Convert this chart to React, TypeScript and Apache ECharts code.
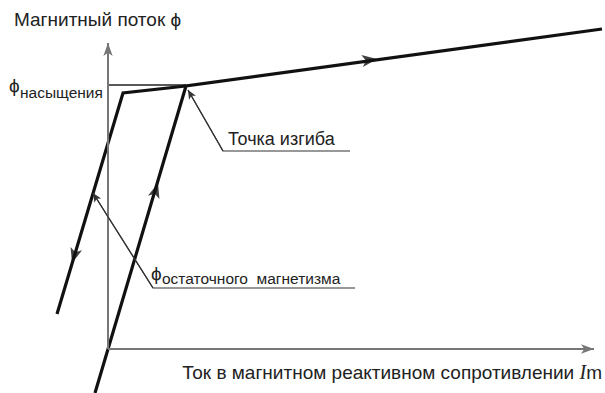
import React, { useEffect, useRef } from "react";
import * as echarts from "echarts";

// Data (arbitrary units: 1 unit = 10 px on both axes)
const risingBranch: [number, number][] = [
  [-1.3, -4.4],
  [7.8, 26.3],
  [49.4, 32.0],
];
const returnBranch: [number, number][] = [
  [7.8, 26.3],
  [1.5, 25.6],
  [-5.1, 3.5],
];
const saturationLine: [number, number][] = [
  [0, 26.4],
  [7.8, 26.4],
];
// [x, y, rotation]
const directionArrows: [number, number, number][] = [
  [5.0, 16.6, -16.7],
  [-3.6, 8.6, 163.3],
  [26.9, 29.0, -82.2],
];
const kneeLeader: [number, number][] = [
  [8.0, 25.9],
  [11.5, 19.8],
  [24.2, 19.8],
];
const remanenceLeader: [number, number][] = [
  [-1.5, 15.6],
  [4.5, 6.1],
  [24.7, 6.1],
];
const xAxisEnd: [number, number] = [48.6, 0];
const yAxisEnd: [number, number] = [0, 30.6];
const origin: [number, number] = [0, 0];

const yAxisTitle = "Магнитный поток ϕ";
const xAxisTitle = "Ток в магнитном реактивном сопротивлении ";
const saturationLabel = "насыщения";
const kneeLabel = "Точка изгиба";
const remanenceLabel = "остаточного  магнетизма";
const phi = "ϕ";

const FONT = "'Liberation Sans', Arial, sans-serif";
const TEXT = "#222";

export default function App() {
  const ref = useRef<HTMLDivElement>(null);
  useEffect(() => {
    if (!ref.current) return;
    const chart = echarts.init(ref.current, null, { renderer: "svg" });
    const leaderSeries = (data: [number, number][]) => ({
      type: "line",
      data,
      symbol: "none",
      clip: false,
      lineStyle: { color: "#333", width: 1.2 },
      silent: true,
      markLine: {
        silent: true,
        symbol: ["arrow", "none"],
        symbolSize: [6, 9],
        label: { show: false },
        lineStyle: { color: "#333", width: 1.2, type: "solid" },
        data: [[{ coord: data[0] }, { coord: data[1] }]],
      },
    });
    const hiddenAxis = {
      type: "value",
      axisLine: { show: false },
      axisTick: { show: false },
      axisLabel: { show: false },
      splitLine: { show: false },
    };
    chart.setOption({
      animation: false,
      grid: { left: 48, right: 0, top: 24, bottom: 0 },
      xAxis: { ...hiddenAxis, min: -6, max: 49.7 },
      yAxis: { ...hiddenAxis, min: -4.4, max: 32.5 },
      series: [
        {
          type: "line",
          data: [],
          symbol: "none",
          silent: true,
          markLine: {
            silent: true,
            symbol: ["none", "arrow"],
            symbolSize: [7, 13],
            label: { show: false },
            lineStyle: { color: "#777", width: 2, type: "solid" },
            data: [
              [{ coord: origin }, { coord: xAxisEnd }],
              [{ coord: origin }, { coord: yAxisEnd }],
            ],
          },
        },
        {
          type: "line",
          data: saturationLine,
          symbol: "none",
          clip: false,
          lineStyle: { color: "#222", width: 1.5 },
        },
        {
          type: "line",
          data: risingBranch,
          symbol: "none",
          clip: false,
          lineStyle: { color: "#111", width: 3.2, join: "miter" },
        },
        {
          type: "line",
          data: returnBranch,
          symbol: "none",
          clip: false,
          lineStyle: { color: "#111", width: 3.2, join: "miter" },
        },
        leaderSeries(kneeLeader),
        leaderSeries(remanenceLeader),
        {
          type: "scatter",
          data: directionArrows,
          symbol: "arrow",
          symbolSize: [9, 15],
          symbolRotate: (v: number[]) => v[2],
          clip: false,
          itemStyle: { color: "#111" },
        },
      ],
      graphic: [
        {
          type: "text",
          left: 14,
          top: 10,
          style: { text: yAxisTitle, font: `19px ${FONT}`, fill: TEXT },
        },
        {
          type: "text",
          x: 602,
          y: 372,
          style: {
            text: `{t|${xAxisTitle}}{i|I}{t|m}`,
            rich: {
              t: { font: `19px ${FONT}`, fill: TEXT },
              i: { font: `italic 20px 'Liberation Serif', serif`, fill: TEXT },
            },
            align: "right",
            verticalAlign: "middle",
          },
        },
        {
          type: "text",
          x: 9,
          y: 85,
          style: { text: phi, font: `19px ${FONT}`, fill: TEXT, verticalAlign: "middle" },
        },
        {
          type: "text",
          x: 20,
          y: 92,
          style: { text: saturationLabel, font: `15.5px ${FONT}`, fill: TEXT, verticalAlign: "middle" },
        },
        {
          type: "text",
          x: 228,
          y: 139,
          style: { text: kneeLabel, font: `18px ${FONT}`, fill: TEXT, verticalAlign: "middle" },
        },
        {
          type: "text",
          x: 151,
          y: 273,
          style: { text: phi, font: `19px ${FONT}`, fill: TEXT, verticalAlign: "middle" },
        },
        {
          type: "text",
          x: 162,
          y: 278,
          style: { text: remanenceLabel, font: `15.5px ${FONT}`, fill: TEXT, verticalAlign: "middle" },
        },
      ],
    });
    return () => chart.dispose();
  }, []);
  return (
    <div
      ref={ref}
      style={{ position: "fixed", left: 0, top: 0, width: 605, height: 393, background: "#fff" }}
    />
  );
}
